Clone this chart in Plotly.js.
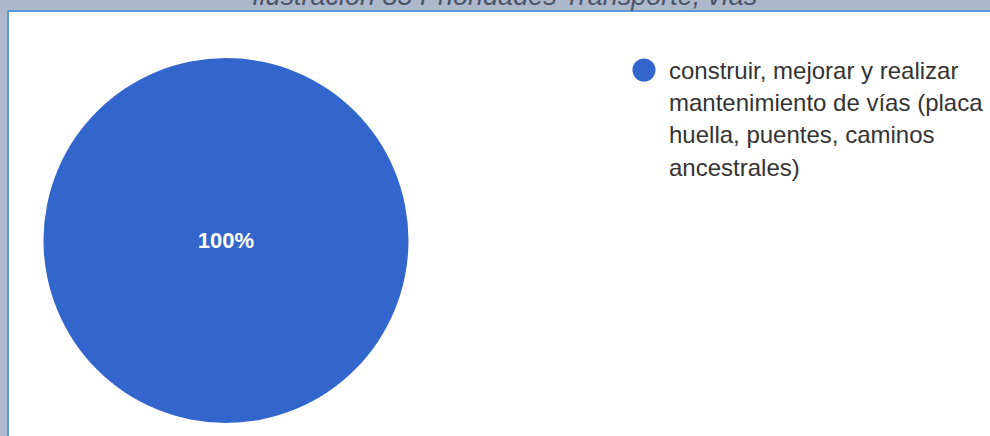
<!DOCTYPE html>
<html>
<head>
<meta charset="utf-8">
<script src="https://cdn.plot.ly/plotly-3.0.1.min.js"></script>
<style>
  html, body { margin: 0; padding: 0; background: #adb9ca; }
  #chart { width: 990px; height: 436px; }
</style>
</head>
<body>
<div id="chart"></div>
<script>
// ---- data ----
const categories = ["construir, mejorar y realizar mantenimiento de vías (placa huella, puentes, caminos ancestrales)"];
const values = [100];
const legendLines = ["construir, mejorar y realizar", "mantenimiento de vías (placa", "huella, puentes, caminos", "ancestrales)"];
const colors = ["#3366cc"];
const captionText = "Ilustración 85 Prioridades Transporte, vías";

// ---- layout helpers ----
const W = 990, H = 436;
const px = x => x / W;
const py = y => 1 - y / H;

const cx = 226, cy = 240.5, r = 182.5;

const trace = {
  type: "pie",
  labels: categories,
  values: values,
  marker: { colors: colors, line: { width: 0 } },
  textinfo: "percent",
  textposition: "inside",
  insidetextorientation: "horizontal",
  textfont: { family: "Arial, 'Liberation Sans', sans-serif", size: 22, color: "#ffffff", weight: "bold" },
  sort: false,
  hoverinfo: "label+percent",
  showlegend: false,
  domain: { x: [px(cx - r), px(cx + r)], y: [py(cy + r), py(cy - r)] }
};

const annotations = [{
  xref: "paper", yref: "paper",
  x: px(505), y: 1, yshift: 4,
  xanchor: "center", yanchor: "middle",
  text: "<i>" + captionText + "</i>",
  showarrow: false,
  font: { family: "Arial, 'Liberation Sans', sans-serif", size: 27, color: "#4a5568" }
}];

const lineStart = 78, lineGap = 32.4;
legendLines.forEach((t, i) => {
  annotations.push({
    xref: "paper", yref: "paper",
    x: px(668), y: py(lineStart + i * lineGap - 8),
    xanchor: "left", yanchor: "middle",
    text: t, showarrow: false, align: "left", borderpad: 0,
    font: { family: "Arial, 'Liberation Sans', sans-serif", size: 24, color: "#333333" }
  });
});

const layout = {
  width: W, height: H,
  margin: { l: 0, r: 0, t: 0, b: 0 },
  paper_bgcolor: "#adb9ca",
  plot_bgcolor: "rgba(0,0,0,0)",
  showlegend: false,
  shapes: [
    { type: "rect", xref: "paper", yref: "paper", layer: "below",
      x0: px(8), x1: px(1010), y0: py(460), y1: py(11),
      fillcolor: "#ffffff", line: { color: "#5b9bd5", width: 2 } },
    { type: "circle", xref: "paper", yref: "paper", layer: "above",
      x0: px(632.5), x1: px(655.5), y0: py(81.5), y1: py(58.5),
      fillcolor: colors[0], line: { width: 0 } }
  ],
  annotations: annotations
};

Plotly.newPlot("chart", [trace], layout, { displayModeBar: false, staticPlot: true });
</script>
</body>
</html>
